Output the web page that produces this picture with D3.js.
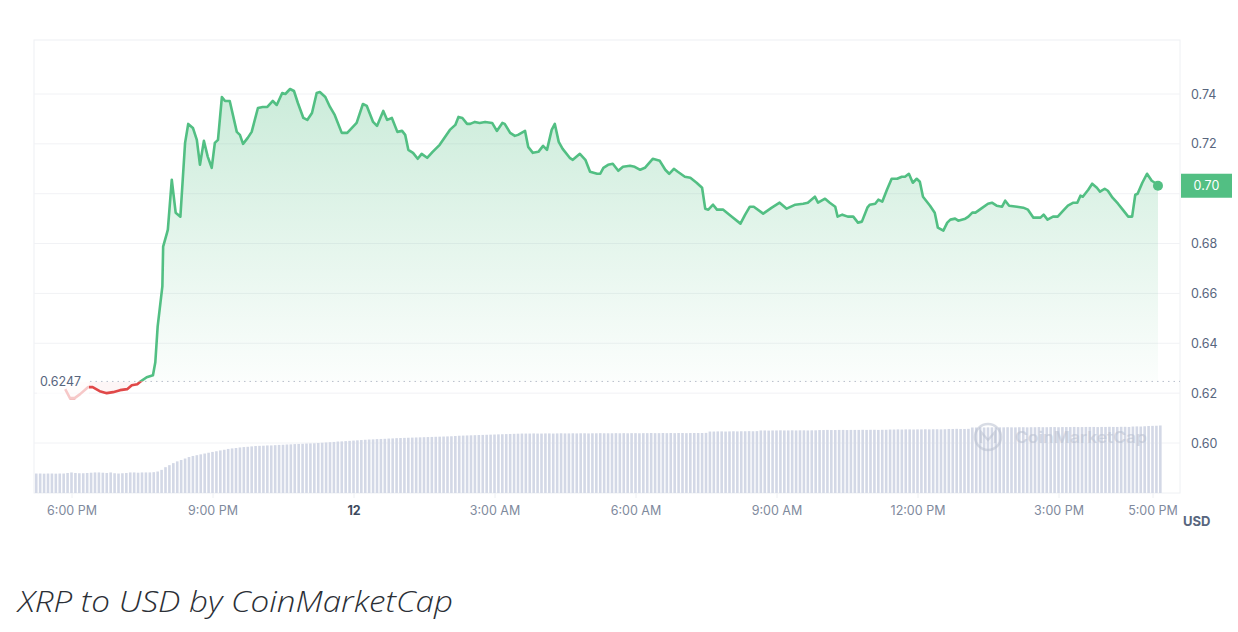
<!DOCTYPE html>
<html>
<head>
<meta charset="utf-8">
<script src="https://cdn.jsdelivr.net/npm/d3@7"></script>
<style>
  body { margin: 0; background: #fff; }
  svg { display: block; font-family: Inter, "Noto Sans", sans-serif; }
</style>
</head>
<body>
<svg id="root"></svg>
<script>
// minutes after 6:00 PM (day 11) for each price sample
const priceMinutes = [
  -8,-2,4,11,21,27,36,45,53,62,
  71,77,84,87,96,104,107,110,116,117,
  122,123,128,133,139,142,145,149,155,160,
  164,169,174,179,183,187,192,196,202,211,
  215,219,225,230,238,244,250,257,262,269,
  273,279,284,289,296,301,307,313,317,324,
  330,336,345,352,364,372,377,385,390,398,
  403,409,416,422,426,430,436,442,447,454,
  461,470,483,490,494,499,505,509,515,521,
  528,537,543,550,553,560,566,570,579,583,
  589,596,602,607,613,617,622,627,636,640,
  649,656,662,671,675,679,685,691,698,704,
  713,719,726,732,742,751,758,763,769,774,
  783,790,798,805,809,813,819,824,832,843,
  854,860,866,871,883,894,904,913,924,934,
  940,949,953,962,968,975,978,984,991,998,
  1004,1009,1016,1019,1026,1030,1035,1041,1047,1054,
  1060,1064,1069,1074,1079,1083,1087,1096,1102,1106,
  1113,1118,1122,1128,1132,1141,1145,1150,1154,1163,
  1170,1175,1181,1188,1192,1197,1207,1215,1221,1228,
  1237,1241,1246,1253,1259,1266,1272,1279,1284,1288,
  1291,1298,1303,1309,1313,1319,1323,1329,1336,1342,
  1349,1354,1358,1361,1367,1373,1379,1383,1387
];

const priceValues = [
  0.6216,0.6180,0.6180,0.6196,0.6224,0.6224,0.6208,0.6200,0.6204,0.6212,
  0.6216,0.6232,0.6236,0.6244,0.6264,0.6272,0.6324,0.6468,0.6628,0.6788,
  0.6844,0.6856,0.7056,0.6924,0.6908,0.7056,0.7204,0.7280,0.7264,0.7216,
  0.7116,0.7212,0.7148,0.7104,0.7204,0.7216,0.7388,0.7372,0.7372,0.7248,
  0.7236,0.7200,0.7224,0.7248,0.7344,0.7348,0.7348,0.7372,0.7356,0.7404,
  0.7400,0.7420,0.7412,0.7364,0.7304,0.7296,0.7324,0.7404,0.7408,0.7388,
  0.7348,0.7316,0.7244,0.7244,0.7284,0.7360,0.7352,0.7288,0.7272,0.7332,
  0.7296,0.7304,0.7248,0.7252,0.7236,0.7176,0.7164,0.7140,0.7160,0.7144,
  0.7168,0.7196,0.7256,0.7276,0.7308,0.7304,0.7280,0.7280,0.7288,0.7284,
  0.7288,0.7284,0.7252,0.7284,0.7280,0.7244,0.7232,0.7236,0.7252,0.7188,
  0.7164,0.7168,0.7192,0.7176,0.7256,0.7280,0.7208,0.7180,0.7144,0.7136,
  0.7160,0.7136,0.7088,0.7080,0.7080,0.7104,0.7116,0.7120,0.7092,0.7108,
  0.7112,0.7108,0.7096,0.7104,0.7140,0.7132,0.7096,0.7080,0.7100,0.7088,
  0.7068,0.7064,0.7044,0.7024,0.6940,0.6936,0.6956,0.6936,0.6936,0.6908,
  0.6880,0.6916,0.6948,0.6948,0.6920,0.6944,0.6964,0.6940,0.6956,0.6960,
  0.6964,0.6988,0.6964,0.6980,0.6964,0.6948,0.6908,0.6916,0.6908,0.6908,
  0.6884,0.6888,0.6944,0.6956,0.6960,0.6976,0.6968,0.7016,0.7060,0.7060,
  0.7068,0.7068,0.7080,0.7044,0.7060,0.7048,0.6988,0.6952,0.6924,0.6864,
  0.6852,0.6884,0.6896,0.6900,0.6892,0.6900,0.6908,0.6924,0.6924,0.6944,
  0.6960,0.6964,0.6952,0.6948,0.6972,0.6952,0.6948,0.6944,0.6936,0.6904,
  0.6904,0.6916,0.6896,0.6908,0.6908,0.6932,0.6952,0.6964,0.6964,0.6992,
  0.6988,0.7016,0.7040,0.7024,0.7008,0.7020,0.7012,0.6984,0.6960,0.6936,
  0.6908,0.6908,0.6996,0.7000,0.7044,0.7080,0.7052,0.7044,0.7032
];

const openPrice = 0.6247;
const openLabel = "0.6247";
const lastPriceLabel = "0.70";

// volume bars, one every 5 minutes starting 45 min before 6:00 PM (billions)
const volumeStartMinute = -45;
const volumeStepMinute = 5;
const volumeValues = [
  1.48,1.48,1.47,1.48,1.48,1.47,1.48,1.48,1.52,1.56,
  1.52,1.50,1.50,1.52,1.54,1.56,1.56,1.54,1.52,1.56,
  1.50,1.48,1.50,1.52,1.56,1.56,1.54,1.56,1.56,1.56,
  1.58,1.63,1.75,1.95,2.10,2.25,2.38,2.48,2.59,2.70,
  2.78,2.84,2.90,2.96,3.02,3.08,3.13,3.19,3.24,3.30,
  3.34,3.37,3.41,3.44,3.46,3.49,3.52,3.53,3.54,3.56,
  3.56,3.58,3.60,3.61,3.63,3.64,3.66,3.67,3.68,3.70,
  3.71,3.72,3.74,3.76,3.78,3.80,3.82,3.85,3.86,3.88,
  3.90,3.92,3.94,3.96,3.98,4.00,4.01,4.03,4.04,4.05,
  4.07,4.08,4.10,4.11,4.12,4.13,4.14,4.15,4.16,4.17,
  4.18,4.19,4.20,4.21,4.22,4.23,4.24,4.26,4.28,4.29,
  4.30,4.31,4.32,4.33,4.34,4.35,4.36,4.37,4.38,4.39,
  4.40,4.41,4.42,4.43,4.44,4.44,4.44,4.45,4.44,4.44,
  4.45,4.45,4.44,4.45,4.46,4.45,4.45,4.46,4.45,4.46,
  4.46,4.45,4.46,4.46,4.47,4.46,4.46,4.46,4.47,4.46,
  4.47,4.46,4.47,4.47,4.46,4.47,4.47,4.48,4.47,4.47,
  4.48,4.47,4.48,4.47,4.48,4.48,4.47,4.48,4.48,4.48,
  4.48,4.49,4.59,4.59,4.60,4.60,4.59,4.60,4.61,4.60,
  4.61,4.61,4.62,4.61,4.62,4.67,4.67,4.66,4.67,4.67,
  4.68,4.67,4.67,4.68,4.67,4.68,4.68,4.67,4.68,4.68,
  4.70,4.70,4.71,4.70,4.70,4.71,4.71,4.70,4.71,4.71,
  4.71,4.72,4.71,4.72,4.72,4.71,4.72,4.72,4.74,4.74,
  4.75,4.74,4.75,4.75,4.74,4.75,4.75,4.76,4.75,4.76,
  4.76,4.75,4.76,4.78,4.78,4.79,4.78,4.78,4.79,4.89,
  4.89,4.90,4.89,4.90,4.90,4.89,4.90,4.90,4.91,4.90,
  4.90,4.91,4.91,4.90,4.91,4.91,4.92,4.91,4.91,4.92,
  4.92,4.91,4.92,4.92,4.92,4.93,4.92,4.92,4.93,4.93,
  4.93,4.92,4.93,4.93,4.94,4.93,4.93,4.94,4.94,4.93,
  4.96,4.97,4.96,4.98,5.00,5.01,5.02,5.04
];

const yTicks = [0.60, 0.62, 0.64, 0.66, 0.68, 0.70, 0.72, 0.74];
const xTickMinutes = [0, 180, 360, 540, 720, 900, 1080, 1260, 1380];
const xTickLabels = ["6:00 PM", "9:00 PM", "12", "3:00 AM", "6:00 AM", "9:00 AM", "12:00 PM", "3:00 PM", "5:00 PM"];
const caption = "XRP to USD by CoinMarketCap";

const width = 1238;
const height = 632;
const frame = { left: 34, right: 1180, top: 40, bottom: 493 };
const green = "#52bf83";
const red = "#e04848";
const gridColor = "#f1f2f5";
const labelColor = "#58667e";

const base = new Date(2024, 2, 11, 18, 0);
const at = (m) => new Date(base.getTime() + m * 60000);

const prices = priceMinutes.map((m, i) => ({ t: at(m), p: priceValues[i] }));
const volumes = volumeValues.map((v, i) => ({ t: at(volumeStartMinute + i * volumeStepMinute), v }));

const svg = d3.select("#root").attr("width", width).attr("height", height);
const defs = svg.append("defs");

const x = d3.scaleTime().domain([at(0), at(1380)]).range([71.5, 1152.5]);
const y = d3.scaleLinear().domain([0.60, 0.74]).range([443, 94]);
const yVol = d3.scaleLinear().domain([0, 5.5]).range([frame.bottom + 0.5, frame.bottom + 0.5 - 74.25]);
const baseY = y(openPrice);

// frame + grid
svg.append("rect")
  .attr("x", frame.left).attr("y", frame.top)
  .attr("width", frame.right - frame.left).attr("height", frame.bottom - frame.top)
  .attr("fill", "none").attr("stroke", "#eef0f3");

svg.append("g")
  .selectAll("line")
  .data(yTicks)
  .enter()
  .append("line")
  .attr("x1", frame.left).attr("x2", frame.right)
  .attr("y1", d => y(d)).attr("y2", d => y(d))
  .attr("stroke", gridColor);

// volume bars
svg.append("g")
  .selectAll("rect")
  .data(volumes)
  .enter()
  .append("rect")
  .attr("x", d => x(d.t) - 1.3)
  .attr("width", 2.6)
  .attr("y", d => yVol(d.v))
  .attr("height", d => frame.bottom - yVol(d.v))
  .attr("fill", "#d3d8e6");

// watermark
const wm = svg.append("g").attr("opacity", 0.55);
wm.append("circle").attr("cx", 988).attr("cy", 437).attr("r", 13)
  .attr("fill", "none").attr("stroke", "#b9c0d0").attr("stroke-width", 2.5);
wm.append("path").attr("d", "M981,443 L981,432 L988,440 L995,432 L995,443")
  .attr("fill", "none").attr("stroke", "#b9c0d0").attr("stroke-width", 2.2);
wm.append("text").attr("x", 1015).attr("y", 443)
  .attr("font-size", 16).attr("font-weight", 600)
  .attr("textLength", 132).attr("lengthAdjust", "spacingAndGlyphs")
  .attr("fill", "#b9c0d0").text("CoinMarketCap");

// clips above / below opening price
defs.append("clipPath").attr("id", "above")
  .append("rect").attr("x", 0).attr("y", 0).attr("width", width).attr("height", baseY);
defs.append("clipPath").attr("id", "below")
  .append("rect").attr("x", 0).attr("y", baseY).attr("width", width).attr("height", height - baseY);

const topY = y(d3.max(priceValues));
const gGreen = defs.append("linearGradient").attr("id", "fillGreen")
  .attr("gradientUnits", "userSpaceOnUse")
  .attr("x1", 0).attr("x2", 0).attr("y1", topY).attr("y2", baseY);
gGreen.append("stop").attr("offset", "0%").attr("stop-color", green).attr("stop-opacity", 0.3);
gGreen.append("stop").attr("offset", "100%").attr("stop-color", green).attr("stop-opacity", 0.02);

const area = d3.area()
  .x(d => x(d.t))
  .y0(baseY)
  .y1(d => y(d.p));

svg.append("path").datum(prices)
  .attr("d", area).attr("fill", "url(#fillGreen)").attr("clip-path", "url(#above)");
svg.append("path").datum(prices)
  .attr("d", area).attr("fill", red).attr("fill-opacity", 0.05).attr("clip-path", "url(#below)");

// opening price dotted line
svg.append("line")
  .attr("x1", 90).attr("x2", frame.right)
  .attr("y1", baseY).attr("y2", baseY)
  .attr("stroke", "#b8bfcc").attr("stroke-width", 1)
  .attr("stroke-dasharray", "1.5,4");

const line = d3.line()
  .x(d => x(d.t))
  .y(d => y(d.p));

svg.append("path").datum(prices)
  .attr("d", line).attr("fill", "none").attr("stroke", green)
  .attr("stroke-width", 2.6).attr("stroke-linejoin", "round")
  .attr("clip-path", "url(#above)");
svg.append("path").datum(prices)
  .attr("d", line).attr("fill", "none").attr("stroke", red)
  .attr("stroke-width", 2.6).attr("stroke-linejoin", "round")
  .attr("clip-path", "url(#below)");

const last = prices[prices.length - 1];
svg.append("circle")
  .attr("cx", x(last.t)).attr("cy", y(last.p)).attr("r", 5)
  .attr("fill", green);

// opening price label (semi-opaque backing fades the line under it)
svg.append("rect")
  .attr("x", 37).attr("y", baseY - 9).attr("width", 52).attr("height", 27)
  .attr("fill", "#fff").attr("fill-opacity", 0.7);
svg.append("text")
  .attr("x", 40).attr("y", baseY).attr("dy", "0.35em")
  .attr("font-size", 12.5).attr("fill", labelColor)
  .text(openLabel);

// y axis (right)
const yAxis = svg.append("g")
  .attr("transform", `translate(${frame.right},0)`)
  .call(d3.axisRight(y)
    .tickValues(yTicks.filter(d => Math.abs(d - last.p) > 0.006))
    .tickFormat(d3.format(".2f"))
    .tickSize(0).tickPadding(11));
yAxis.select(".domain").remove();
yAxis.selectAll("text")
  .attr("font-family", "Inter, sans-serif")
  .attr("font-size", 12.5).attr("fill", labelColor);

// current price tag
const tagY = y(last.p);
svg.append("rect")
  .attr("x", frame.right + 1).attr("y", tagY - 12).attr("width", 51).attr("height", 24)
  .attr("fill", green);
svg.append("text")
  .attr("x", frame.right + 26.5).attr("y", tagY).attr("dy", "0.35em")
  .attr("text-anchor", "middle").attr("font-size", 12.5).attr("fill", "#fff")
  .text(lastPriceLabel);

// x axis
const xAxis = svg.append("g")
  .attr("transform", `translate(0,${frame.bottom})`)
  .call(d3.axisBottom(x)
    .tickValues(xTickMinutes.map(at))
    .tickFormat((d, i) => xTickLabels[i])
    .tickSize(5).tickPadding(8));
xAxis.select(".domain").remove();
xAxis.selectAll(".tick line").attr("stroke", "#eef0f3");
xAxis.selectAll("text")
  .attr("font-family", "Inter, sans-serif")
  .attr("font-size", 12.5)
  .attr("fill", (d, i) => xTickLabels[i] === "12" ? "#3d4a5e" : "#7f8a9d")
  .attr("font-weight", (d, i) => xTickLabels[i] === "12" ? 700 : 400);

svg.append("text")
  .attr("x", frame.right + 3).attr("y", 526)
  .attr("font-size", 13).attr("font-weight", 700).attr("fill", labelColor)
  .text("USD");

// caption
svg.append("text")
  .attr("x", 18).attr("y", 612)
  .attr("font-family", "'Open Sans', Lato, sans-serif")
  .attr("font-style", "italic").attr("font-weight", 300)
  .attr("font-size", 30).attr("fill", "#2b2f36")
  .attr("textLength", 435).attr("lengthAdjust", "spacingAndGlyphs")
  .text(caption);
</script>
</body>
</html>
